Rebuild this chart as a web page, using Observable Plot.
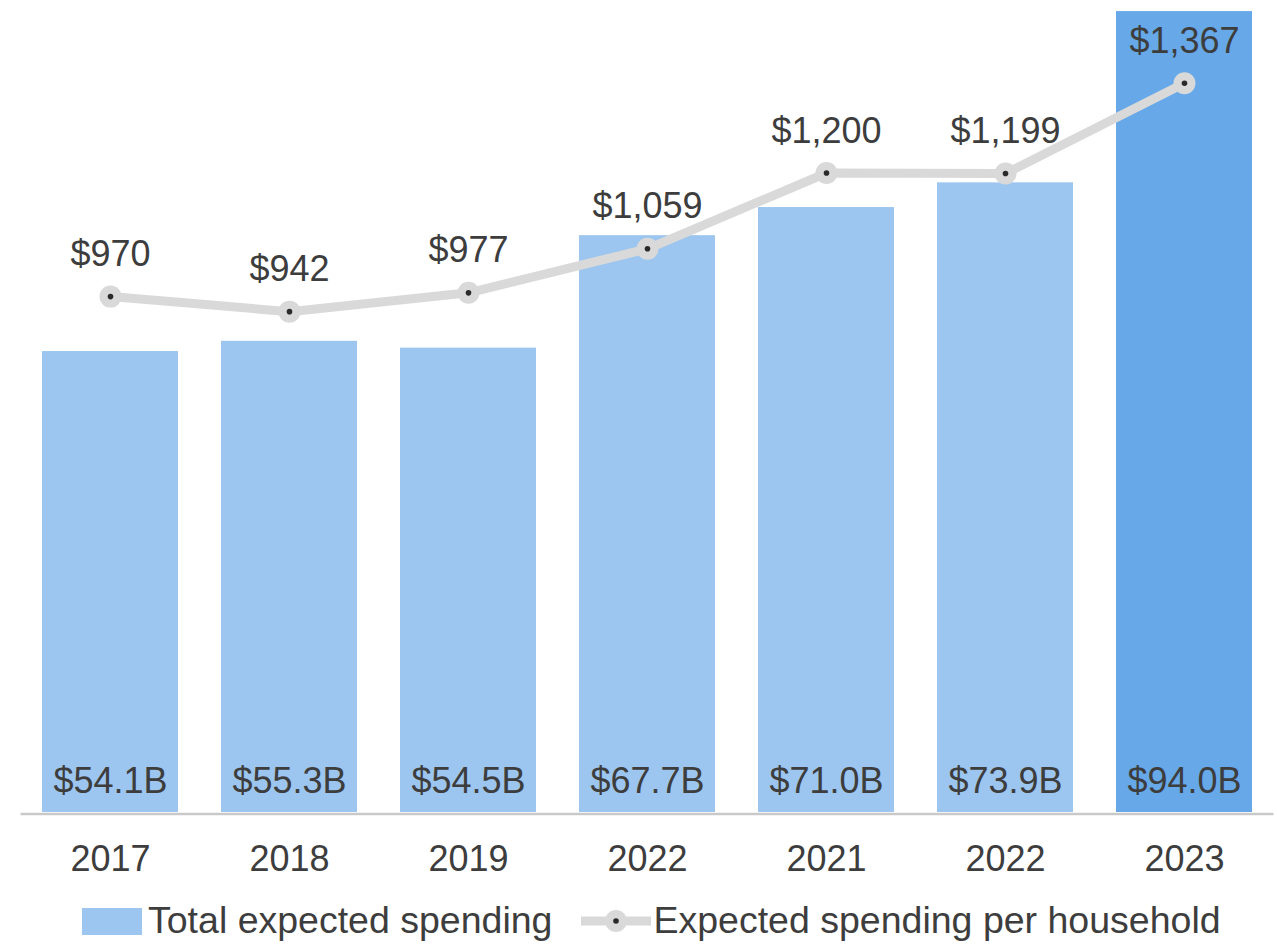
<!DOCTYPE html>
<html>
<head>
<meta charset="utf-8">
<script src="https://cdn.jsdelivr.net/npm/d3@7"></script>
<script src="https://cdn.jsdelivr.net/npm/@observablehq/plot@0.6"></script>
<style>
  html, body { margin: 0; padding: 0; background: #fff; overflow: hidden; }
  #wrap { position: relative; width: 1277px; height: 890px; }
  #wrap > svg, #wrap > figure { position: absolute; left: 0; top: 0; margin: 0; }
  #legend { position: relative; height: 62px; display: flex; align-items: center;
    font-family: "Liberation Sans", Arial, sans-serif; font-size: 37.5px; line-height: 1.1; color: #3d3d3d; }
  .sw { display: inline-block; }
</style>
</head>
<body>
<div id="wrap"></div>
<div id="legend"></div>
<script>
const years = ["2017", "2018", "2019", "2022", "2021", "2022", "2023"];
const totalSpending = [54.1, 55.3, 54.5, 67.7, 71.0, 73.9, 94.0];
const perHousehold = [970, 942, 977, 1059, 1200, 1199, 1367];
const seriesNames = ["Total expected spending", "Expected spending per household"];

const data = years.map((y, i) => ({ i, year: y, total: totalSpending[i], hh: perHousehold[i] }));

const W = 1277, H = 890;
const common = {
  width: W, height: H,
  marginLeft: 20.5, marginRight: 3.5, marginTop: 0, marginBottom: 78,
  style: { fontFamily: '"Liberation Sans", Arial, sans-serif', fontSize: "36px", color: "#3d3d3d", background: "transparent", overflow: "visible" }
};
const xScale = { type: "band", domain: d3.range(years.length), paddingInner: 0.24, paddingOuter: 0.12, tickFormat: i => years[i], label: null };

const light = "#9cc6ef", dark = "#66a8e8";

const bars = Plot.plot({
  ...common,
  x: xScale,
  y: { domain: [0, 95.3], axis: null },
  marks: [
    Plot.barY(data, { filter: d => d.i !== years.length - 1, x: "i", y: "total", fill: light }),
    Plot.barY(data, { filter: d => d.i === years.length - 1, x: "i", y: "total", fill: dark }),
    Plot.ruleY([0], { stroke: "#c9c9c9", strokeWidth: 2.5, dy: 1.5 }),
    Plot.text(data, { x: "i", y: 0, text: d => "$" + d.total.toFixed(1) + "B", dy: -31.5, fontSize: 36, fill: "#3d3d3d" }),
    Plot.axisX({ tickSize: 0, tickPadding: 33, fontSize: 36, label: null, fill: "#3d3d3d", tickFormat: i => years[i] })
  ]
});

const line = Plot.plot({
  ...common,
  x: { ...xScale, axis: null },
  y: { domain: [10, 1521], axis: null },
  marks: [
    Plot.line(data, { x: "i", y: "hh", stroke: "#d9d9d9", strokeWidth: 9, strokeLinejoin: "round" }),
    Plot.dot(data, { x: "i", y: "hh", r: 11, fill: "#d9d9d9" }),
    Plot.dot(data, { x: "i", y: "hh", r: 2.8, fill: "#2a2a2a" }),
    Plot.text(data, { x: "i", y: "hh", text: d => "$" + d3.format(",")(d.hh), dy: -42, fontSize: 36, fill: "#3d3d3d" })
  ]
});

const wrap = document.getElementById("wrap");
wrap.appendChild(bars);
wrap.appendChild(line);

// Legend
const legend = document.getElementById("legend");
legend.innerHTML = `
  <span class="sw" style="margin-left:82px;width:60px;height:27px;background:${light};"></span>
  <span style="margin-left:6px;">${seriesNames[0]}</span>
  <svg class="sw" width="70" height="30" style="margin-left:29px;">
    <line x1="0" y1="15" x2="70" y2="15" stroke="#d9d9d9" stroke-width="9"/>
    <circle cx="35" cy="15" r="11" fill="#d9d9d9"/>
    <circle cx="35" cy="15" r="2.8" fill="#2a2a2a"/>
  </svg>
  <span style="margin-left:2px;">${seriesNames[1]}</span>`;
</script>
</body>
</html>
